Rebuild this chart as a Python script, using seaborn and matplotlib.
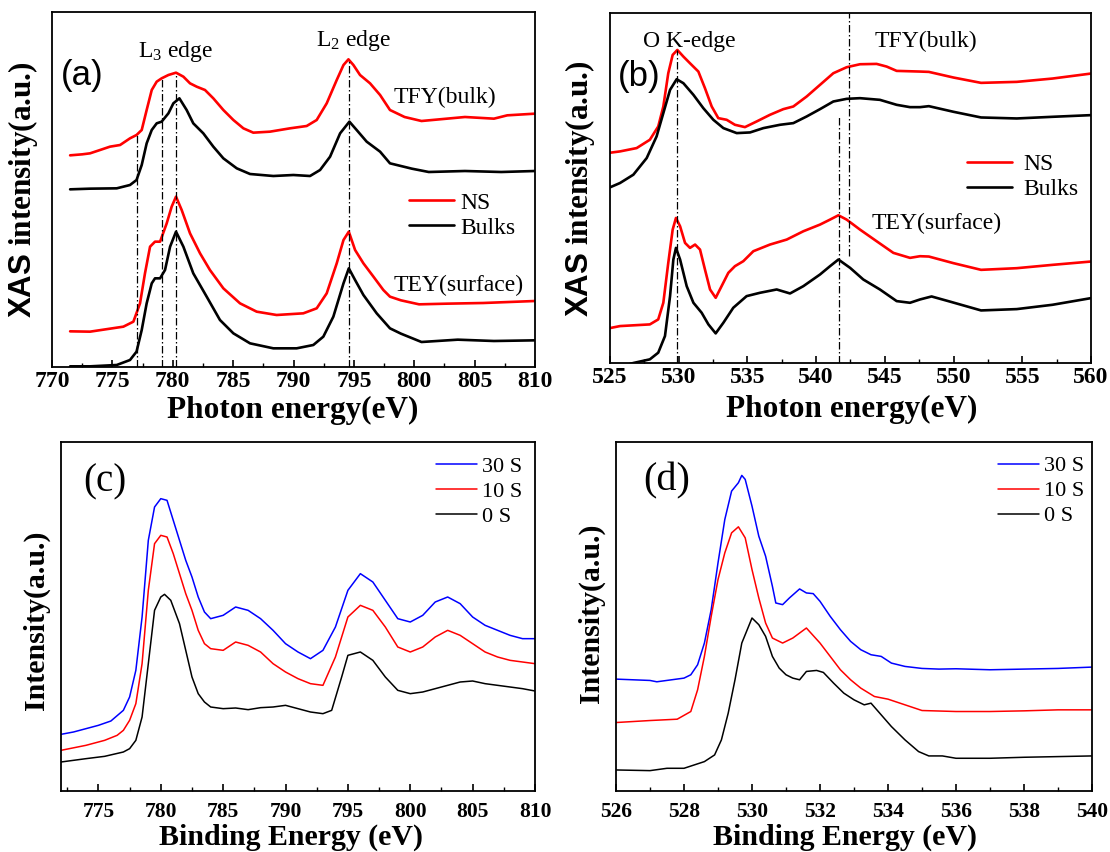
import numpy as np
import pandas as pd
import seaborn as sns
import matplotlib
matplotlib.use("Agg")
import matplotlib.pyplot as plt
from matplotlib.ticker import MultipleLocator, AutoMinorLocator

# ---------------- data : panel (a) Co L-edge XAS ----------------
a_ns_tfy_E = [771.5, 772.5, 773.15, 773.98, 774.8, 775.64, 776.46, 777.0, 777.43, 777.84, 778.26, 778.67, 779.08,
              779.64, 780.27, 780.88, 781.43, 781.98, 782.67, 783.36, 784.19, 785.02, 785.85, 786.67, 788.05, 789.71,
              791.09, 791.92, 792.75, 793.58, 794.14, 794.55, 794.96, 795.51, 796.34, 797.17, 797.99, 799.2, 800.6,
              802.7, 804.2, 806.6, 807.7, 810]
a_ns_tfy_I = [635, 638, 641, 651, 661, 666, 686, 696, 711, 771, 831, 856, 866, 876, 883, 871, 851, 841, 831, 806,
              771, 741, 716, 703, 706, 716, 723, 741, 791, 861, 906, 923, 906, 876, 851, 816, 771, 750, 738, 745, 750,
              745, 755, 760]
a_bk_tfy_E = [771.5, 773.15, 775.36, 776.46, 777.0, 777.43, 777.84, 778.26, 778.67, 779.08, 779.64, 780.05, 780.55,
              781.15, 781.7, 782.53, 783.36, 784.19, 785.3, 786.4, 788.33, 789.99, 791.37, 792.2, 793.03, 793.86,
              794.63, 795.23, 796.06, 797.17, 797.99, 799.8, 801.2, 804.2, 807.2, 810]
a_bk_tfy_I = [533, 535, 536, 546, 561, 606, 671, 711, 731, 736, 761, 791, 806, 771, 731, 701, 661, 626, 596, 579,
              573, 576, 573, 591, 631, 701, 736, 711, 676, 646, 611, 595, 585, 588, 585, 588]
a_ns_tey_E = [771.5, 773.15, 775.91, 776.74, 777.29, 777.7, 778.12, 778.53, 778.95, 779.5, 779.91, 780.27, 780.74,
              781.43, 782.26, 783.08, 784.19, 785.57, 786.95, 788.6, 790.81, 791.92, 792.75, 793.58, 794.14, 794.58,
              795.1, 795.79, 796.62, 797.44, 797.99, 798.9, 800.4, 802.7, 805.7, 810]
a_ns_tey_I = [107, 106, 121, 136, 191, 281, 361, 376, 376, 431, 481, 511, 471, 401, 341, 291, 236, 191, 166, 156,
              161, 176, 221, 311, 381, 406, 351, 311, 271, 231, 211, 200, 188, 190, 192, 198]
a_bk_tey_E = [771.5, 773.15, 775.36, 776.46, 777.0, 777.43, 777.84, 778.26, 778.53, 778.95, 779.36, 779.78, 780.27,
              780.88, 781.7, 782.81, 783.91, 785.02, 786.4, 788.33, 790.26, 791.64, 792.47, 793.3, 794.14, 794.58,
              795.1, 795.79, 796.89, 797.99, 798.9, 800.6, 803.6, 806.6, 810]
a_bk_tey_I = [2, 2, 6, 21, 46, 111, 191, 251, 266, 266, 291, 361, 406, 361, 281, 211, 141, 101, 71, 56, 56, 66, 91,
              151, 251, 296, 261, 216, 161, 116, 100, 75, 82, 78, 80]
a_mark_E = [777.0, 779.1, 780.27, 794.6]
a_mark_top = [698, 866, 883, 923]

# ---------------- data : panel (b) O K-edge XAS ----------------
b_ns_tfy_E = [525, 525.73, 526.94, 527.9, 528.51, 528.88, 529.24, 529.56, 529.9, 530.34, 530.82, 531.43, 531.91,
              532.4, 532.88, 533.49, 534.09, 534.82, 535.67, 536.64, 537.61, 538.34, 539.31, 540.28, 541.25, 542.22,
              543.19, 544.4, 545.13, 545.86, 547.56, 548.2, 550.0, 552.0, 554.6, 557.2, 560]
b_ns_tfy_I = [632, 636, 646, 671, 711, 771, 871, 926, 941, 921, 901, 876, 826, 771, 736, 731, 716, 709, 726, 746,
              763, 771, 801, 836, 871, 889, 898, 899, 891, 878, 876, 875, 858, 842, 845, 855, 870]
b_bk_tfy_E = [525, 525.73, 526.7, 527.67, 528.39, 528.88, 529.37, 529.85, 530.34, 531.07, 531.79, 532.52, 533.25,
              534.22, 535.19, 536.16, 537.37, 538.34, 539.31, 540.28, 541.25, 542.22, 543.19, 544.64, 545.86, 546.83,
              547.56, 548.2, 550.0, 552.0, 554.6, 557.2, 560]
b_bk_tfy_I = [528, 541, 566, 616, 681, 751, 821, 853, 841, 806, 766, 731, 706, 691, 693, 706, 716, 721, 741, 763,
              786, 794, 796, 791, 776, 769, 769, 772, 755, 738, 735, 740, 745]
b_ns_tey_E = [525, 525.73, 527.9, 528.51, 528.88, 529.24, 529.56, 529.8, 530.1, 530.46, 530.82, 531.19, 531.55,
              531.91, 532.28, 532.69, 533.12, 533.61, 534.09, 534.7, 535.43, 536.64, 537.86, 539.07, 540.28, 541.01,
              541.62, 542.22, 543.19, 544.4, 545.62, 546.83, 547.56, 548.2, 550.0, 552.0, 554.6, 557.2, 560]
b_ns_tey_I = [105, 111, 116, 131, 181, 301, 401, 436, 411, 361, 346, 356, 341, 281, 221, 196, 231, 271, 291, 306,
              336, 356, 371, 396, 416, 431, 444, 431, 401, 366, 331, 316, 321, 320, 300, 280, 285, 295, 305]
b_bk_tey_E = [525, 526.7, 527.9, 528.51, 529.0, 529.37, 529.61, 529.8, 530.1, 530.58, 531.07, 531.67, 532.16,
              532.69, 533.25, 533.97, 534.94, 535.91, 537.13, 538.1, 539.07, 540.28, 541.01, 541.62, 542.47, 543.43,
              544.64, 545.86, 546.83, 547.56, 548.4, 549.7, 552.0, 554.6, 557.2, 560]
b_bk_tey_I = [-20, 0, 11, 31, 81, 201, 311, 346, 311, 231, 181, 151, 116, 89, 121, 166, 201, 211, 221, 209, 231,
              266, 291, 311, 286, 251, 221, 186, 181, 191, 200, 185, 158, 162, 175, 195]
b_mark_E = [529.87, 541.65, 542.38]
b_mark_bottom = [0, 0, 323]
b_mark_top = [940, 739, 1052]

# ---------------- data : panel (c) Co 2p XPS ----------------
c_s30_E = [772, 773, 774, 775, 776, 777, 777.5, 778, 778.5, 779, 779.5, 780, 780.5, 781, 781.5, 782, 782.5, 783,
           783.5, 784, 785, 786, 787, 788, 789, 790, 791, 792, 793, 794, 795, 796, 797, 798, 799, 800, 801, 802,
           803, 804, 805, 806, 807, 808, 809, 810]
c_s30_I = [170, 177, 187, 197, 210, 242, 282, 362, 522, 752, 852, 877, 872, 812, 752, 692, 642, 582, 537, 517, 527,
           552, 542, 517, 482, 442, 417, 397, 422, 492, 602, 652, 627, 572, 517, 507, 527, 567, 582, 562, 522, 497,
           482, 467, 457, 457]
c_s10_E = [772, 774, 775.5, 776.5, 777, 777.5, 778, 778.5, 779, 779.5, 780, 780.5, 781, 781.5, 782, 782.5, 783,
           783.5, 784, 785, 786, 787, 788, 789, 790, 791, 792, 793, 794, 795, 796, 797, 798, 799, 800, 801, 802,
           803, 804, 805, 806, 807, 808, 809, 810]
c_s10_I = [122, 137, 152, 167, 182, 212, 262, 382, 602, 742, 767, 762, 712, 652, 592, 542, 482, 442, 427, 422, 447,
           437, 417, 382, 357, 337, 322, 317, 402, 522, 557, 542, 492, 432, 417, 432, 462, 482, 467, 442, 417, 402,
           392, 387, 382]
c_s0_E = [772, 774, 775.5, 777, 777.5, 778, 778.5, 779, 779.5, 780, 780.3, 780.8, 781.5, 782, 782.5, 783, 783.5,
          784, 785, 786, 787, 788, 789, 790, 791, 792, 793, 793.7, 794.5, 795, 796, 797, 798, 799, 800, 801, 802,
          803, 804, 805, 806, 807, 808, 809, 810]
c_s0_I = [87, 97, 104, 117, 127, 152, 222, 382, 542, 582, 590, 572, 502, 422, 342, 292, 267, 252, 247, 249, 244,
          250, 252, 257, 247, 237, 232, 242, 342, 407, 417, 392, 342, 302, 292, 297, 307, 317, 327, 330, 322, 317,
          312, 307, 300]

# ---------------- data : panel (d) O 1s XPS ----------------
d_s30_E = [526, 527, 527.2, 528, 528.2, 528.4, 528.6, 528.8, 529.0, 529.2, 529.4, 529.6, 529.7, 529.8, 530.0,
           530.2, 530.4, 530.6, 530.7, 530.9, 531.1, 531.4, 531.6, 531.8, 532.0, 532.3, 532.6, 532.9, 533.2, 533.5,
           533.8, 534.1, 534.5, 535, 535.5, 536, 537, 538, 539, 540]
d_s30_I = [335, 331, 327, 338, 348, 378, 443, 543, 683, 813, 898, 923, 945, 933, 853, 763, 703, 613, 563, 558, 578,
           605, 593, 591, 568, 523, 483, 448, 423, 408, 403, 383, 373, 367, 365, 366, 363, 365, 367, 371]
d_s10_E = [526, 527, 527.8, 528.2, 528.4, 528.6, 528.8, 529.0, 529.2, 529.4, 529.6, 529.8, 530.0, 530.2, 530.4,
           530.6, 530.9, 531.2, 531.6, 532.0, 532.3, 532.6, 532.9, 533.2, 533.6, 534.0, 534.5, 535, 536, 537, 538,
           539, 540]
d_s10_I = [205, 211, 215, 238, 303, 403, 523, 633, 713, 773, 791, 758, 663, 578, 503, 458, 443, 458, 488, 443, 403,
           363, 333, 308, 283, 275, 258, 241, 238, 238, 240, 243, 243]
d_s0_E = [526, 527, 527.5, 528.0, 528.3, 528.6, 528.9, 529.1, 529.3, 529.5, 529.7, 529.9, 530.0, 530.2, 530.4,
          530.6, 530.8, 531.0, 531.2, 531.4, 531.6, 531.9, 532.1, 532.4, 532.7, 533.0, 533.3, 533.5, 533.8, 534.1,
          534.5, 534.9, 535.2, 535.6, 536, 537, 538, 539, 540]
d_s0_I = [63, 61, 68, 68, 78, 88, 108, 153, 233, 333, 443, 493, 518, 498, 463, 403, 368, 348, 338, 333, 358, 361,
          355, 323, 293, 273, 258, 263, 228, 193, 153, 118, 105, 105, 98, 98, 101, 103, 105]

xps_labels = ["30 S", "10 S", "0 S"]
xas_labels = ["NS", "Bulks"]

# ---------------- style ----------------
sns.set_theme(style="ticks")
plt.rcParams["font.family"] = ["Liberation Serif", "DejaVu Serif"]
plt.rcParams["mathtext.fontset"] = "custom"
plt.rcParams["mathtext.rm"] = "Liberation Serif"
plt.rcParams["mathtext.it"] = "Liberation Serif:italic"
plt.rcParams["mathtext.bf"] = "Liberation Serif:bold"
plt.rcParams["mathtext.sf"] = "Liberation Sans:bold"
for k in ["text.color", "axes.labelcolor", "xtick.color", "ytick.color", "axes.edgecolor"]:
    plt.rcParams[k] = "black"

RED, BLUE, BLACK = "#ff0000", "#0000ff", "#000000"

fig = plt.figure(figsize=(11.1, 8.52), dpi=100)
W, H = 1110, 852


def make_axes(l, t, r, b):
    return fig.add_axes([l / W, 1 - b / H, (r - l) / W, (b - t) / H])


def style(ax, xlim, ylim, major, tick_fs, pad):
    ax.set_xlim(*xlim)
    ax.set_ylim(*ylim)
    ax.set_yticks([])
    ax.xaxis.set_major_locator(MultipleLocator(major))
    ax.xaxis.set_minor_locator(AutoMinorLocator(2))
    ax.tick_params(axis="x", which="major", direction="in", length=5, width=1.2,
                   pad=pad, labelsize=tick_fs, top=False, bottom=True)
    ax.tick_params(axis="x", which="minor", direction="in", length=3, width=1.0, top=False, bottom=True)
    for s in ax.spines.values():
        s.set_visible(True)
        s.set_linewidth(1.3)
        s.set_color("black")
    plt.setp(ax.get_xticklabels(), fontweight="bold")


def line(ax, x, y, color, lw, label=None):
    sns.lineplot(x=np.asarray(x), y=np.asarray(y), ax=ax, color=color, lw=lw, label=label,
                 sort=True, estimator=None)


dashdot = (0, (6, 2, 1.2, 2))

# ---------------- (a) ----------------
ax = make_axes(52, 12, 535, 367)
line(ax, a_ns_tfy_E, a_ns_tfy_I, RED, 1.9, xas_labels[0])
line(ax, a_bk_tfy_E, a_bk_tfy_I, BLACK, 1.9, xas_labels[1])
line(ax, a_ns_tey_E, a_ns_tey_I, RED, 1.9)
line(ax, a_bk_tey_E, a_bk_tey_I, BLACK, 1.9)
ax.vlines(a_mark_E, 0, a_mark_top, colors="black", linestyles=[dashdot], lw=0.9)
style(ax, (770, 810), (0, 1065), 5, 17, 3)
ax.text(772.5, 875, "(a)", fontsize=25, family="Liberation Sans", ha="center", va="center")
ax.text(780.2, 945, "L$_3$ edge", fontsize=17, ha="center", va="center")
ax.text(795.0, 980, "L$_2$ edge", fontsize=17, ha="center", va="center")
ax.text(802.5, 810, "TFY(bulk)", fontsize=17, ha="center", va="center")
ax.text(803.7, 245, "TEY(surface)", fontsize=17, ha="center", va="center")
ax.legend(loc="center left", bbox_to_anchor=(0.739, 0.427), frameon=False, fontsize=17,
          handlelength=1.89, handletextpad=0.3, labelspacing=0.15, borderpad=0, borderaxespad=0)
ax.set_xlabel("Photon energy(eV)", fontsize=22.5, fontweight="bold")
ax.set_ylabel(r"$\mathsf{XAS}$ intensity(a.u.)", fontsize=22.5, fontweight="bold")
ax.yaxis.set_label_coords(-0.025, 0.499)
ax.xaxis.set_label_coords(0.499, -0.082)

# ---------------- (b) ----------------
ax = make_axes(610, 13, 1091, 363)
line(ax, b_ns_tfy_E, b_ns_tfy_I, RED, 1.9, xas_labels[0])
line(ax, b_bk_tfy_E, b_bk_tfy_I, BLACK, 1.9, xas_labels[1])
line(ax, b_ns_tey_E, b_ns_tey_I, RED, 1.9)
line(ax, b_bk_tey_E, b_bk_tey_I, BLACK, 1.9)
ax.vlines(b_mark_E, b_mark_bottom, b_mark_top, colors="black", linestyles=[dashdot], lw=0.9)
style(ax, (525, 560), (0, 1052), 5, 17, 3)
ax.text(527.15, 860, "(b)", fontsize=25, family="Liberation Sans", ha="center", va="center")
ax.text(530.8, 965, "O K-edge", fontsize=17, ha="center", va="center")
ax.text(548.0, 965, "TFY(bulk)", fontsize=17, ha="center", va="center")
ax.text(548.8, 418, "TEY(surface)", fontsize=17, ha="center", va="center")
ax.legend(loc="center left", bbox_to_anchor=(0.743, 0.532), frameon=False, fontsize=17,
          handlelength=1.9, handletextpad=0.45, labelspacing=0.15, borderpad=0, borderaxespad=0)
ax.set_xlabel("Photon energy(eV)", fontsize=22.5, fontweight="bold")
ax.set_ylabel(r"$\mathsf{XAS}$ intensity(a.u.)", fontsize=22.5, fontweight="bold")
ax.yaxis.set_label_coords(-0.027, 0.497)
ax.xaxis.set_label_coords(0.503, -0.09)

# ---------------- (c) ----------------
ax = make_axes(61, 442, 535, 791)
line(ax, c_s30_E, c_s30_I, BLUE, 1.1, xps_labels[0])
line(ax, c_s10_E, c_s10_I, RED, 1.1, xps_labels[1])
line(ax, c_s0_E, c_s0_I, BLACK, 1.1, xps_labels[2])
style(ax, (772, 810), (0, 1047), 5, 15.5, 8)
ax.text(775.5, 927, "(c)", fontsize=28, ha="center", va="center")
ax.legend(loc="center left", bbox_to_anchor=(0.791, 0.857), frameon=False, fontsize=16,
          handlelength=1.85, handletextpad=0.23, labelspacing=0.2, borderpad=0, borderaxespad=0)
ax.set_xlabel("Binding Energy (eV)", fontsize=21.5, fontweight="bold")
ax.set_ylabel("Intensity(a.u.)", fontsize=21.5, fontweight="bold")
ax.yaxis.set_label_coords(-0.023, 0.49)
ax.xaxis.set_label_coords(0.485, -0.095)

# ---------------- (d) ----------------
ax = make_axes(616, 442, 1092, 791)
line(ax, d_s30_E, d_s30_I, BLUE, 1.1, xps_labels[0])
line(ax, d_s10_E, d_s10_I, RED, 1.1, xps_labels[1])
line(ax, d_s0_E, d_s0_I, BLACK, 1.1, xps_labels[2])
style(ax, (526, 540), (0, 1045), 2, 15.5, 8)
ax.text(527.49, 928, "(d)", fontsize=29, ha="center", va="center")
ax.legend(loc="center left", bbox_to_anchor=(0.802, 0.859), frameon=False, fontsize=16,
          handlelength=1.85, handletextpad=0.23, labelspacing=0.2, borderpad=0, borderaxespad=0)
ax.set_xlabel("Binding Energy (eV)", fontsize=21.5, fontweight="bold")
ax.set_ylabel("Intensity(a.u.)", fontsize=21.5, fontweight="bold")
ax.yaxis.set_label_coords(-0.023, 0.51)
ax.xaxis.set_label_coords(0.481, -0.095)

fig.savefig("out.png", dpi=100)
